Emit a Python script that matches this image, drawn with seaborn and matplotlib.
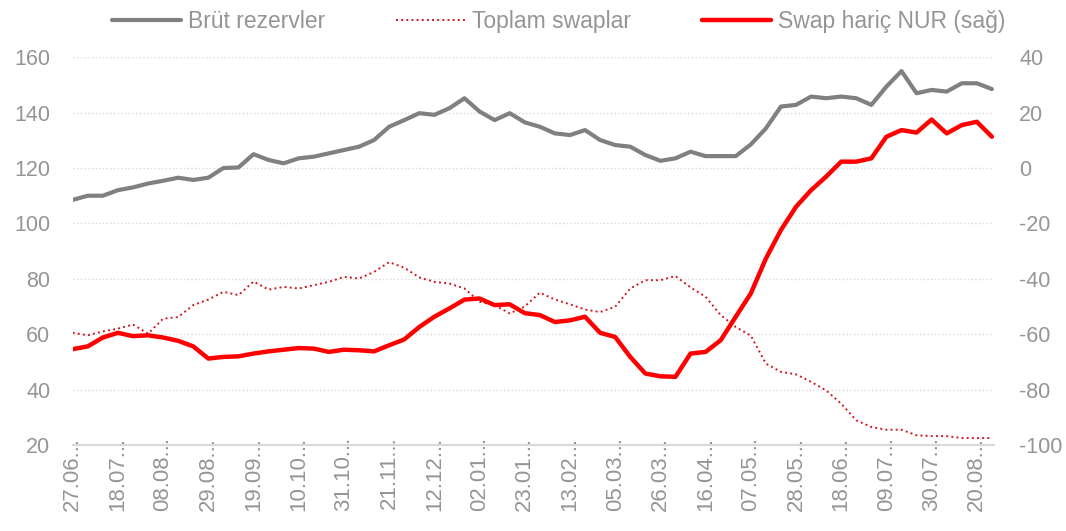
import pandas as pd
import numpy as np
import matplotlib.pyplot as plt
import seaborn as sns

# weekly readings, start 27.06.2023
start_date = "2023-06-27"

brut_rezerv = [108.5, 110, 110, 112, 113, 114.4, 115.4, 116.5, 115.7, 116.5, 120, 120.2, 125, 122.9, 121.7, 123.5,
               124.1, 125.3, 126.5, 127.7, 130.1, 134.9, 137.3, 139.8, 139.2, 141.6, 145.2, 140.4, 137.3, 139.8,
               136.5, 134.9, 132.5, 131.9, 133.7, 130.1, 128.3, 127.7, 124.7, 122.6, 123.5, 125.9, 124.3, 124.3,
               124.3, 128.5, 134.3, 142.2, 142.8, 145.8, 145.2, 145.8, 145.2, 142.8, 149.4, 155, 147, 148.2, 147.6,
               150.6, 150.6, 148.5]

toplam_swap = [60.5, 59.6, 61, 62, 63.5, 60.2, 65.6, 66.2, 70.5, 72.5, 75.3, 74.1, 79, 76.1, 77.1, 76.5,
               77.7, 78.9, 80.7, 80.1, 82.5, 86, 84, 80.5, 78.9, 78.3, 76.5, 71.7, 70.5, 67.5,
               70, 75, 72.5, 70.8, 68.9, 68, 69.9, 76.5, 79.5, 79.5, 81, 76.9, 73.5, 66.9,
               62.6, 59.5, 49.4, 46.4, 45.5, 42.8, 39.7, 34.9, 28.9, 26.5, 25.5, 25.5, 23.5, 23.2, 23.2,
               22.5, 22.5, 22.5]

swap_haric_nur = [-65.4, -64.4, -61.2, -59.5, -60.7, -60.4, -61.2, -62.4, -64.4, -68.8, -68.2, -68, -67, -66.2,
                  -65.6, -65, -65.2, -66.4, -65.6, -65.8, -66.2, -64, -61.9, -57.4, -53.7, -50.7, -47.5, -47.1,
                  -49.5, -49.2, -52.4, -53.1, -55.6, -55, -53.7, -59.5, -61, -68.2, -74.2, -75.2, -75.4, -67,
                  -66.4, -62.2, -53.7, -45.3, -32.7, -22.4, -14, -8, -3.1, 2.3, 2.3, 3.5, 11.3, 13.7, 12.8,
                  17.5, 12.5, 15.5, 16.7, 11.3]

xtick_labels = ['27.06...', '18.07...', '08.08...', '29.08...', '19.09...', '10.10...', '31.10...', '21.11...',
                '12.12...', '02.01...', '23.01...', '13.02...', '05.03...', '26.03...', '16.04...', '07.05...',
                '28.05...', '18.06...', '09.07...', '30.07...', '20.08...']

df = pd.DataFrame({'Date': pd.date_range(start_date, periods=len(brut_rezerv), freq='7D'),
                   'Brut': brut_rezerv, 'Swap': toplam_swap, 'NUR': swap_haric_nur})

sns.set_theme(style="white")
plt.rcParams['font.family'] = ['Liberation Sans', 'DejaVu Sans']
plt.rcParams['axes.unicode_minus'] = False

txt_col = '#959595'
grid_col = '#D9D9D9'
fs = 15.5

fig = plt.figure(figsize=(10.66, 5.31), dpi=100)
ax = fig.add_axes([0.0682, 0.162, 0.8643, 0.7302])
ax2 = ax.twinx()

sns.lineplot(data=df, x='Date', y='Brut', ax=ax, color='#808080', linewidth=3.0, label='Brüt rezervler', legend=False)
sns.lineplot(data=df, x='Date', y='Swap', ax=ax, color='#D0181E', linewidth=1.4, linestyle=':',
             label='Toplam swaplar', legend=False)
sns.lineplot(data=df, x='Date', y='NUR', ax=ax2, color='#FF0000', linewidth=3.2,
             label='Swap hariç NUR (sağ)', legend=False)

ax.set_ylim(20, 160)
ax.set_yticks(np.arange(20, 161, 20))
ax2.set_ylim(-100, 40)
ax2.set_yticks(np.arange(-100, 41, 20))

d0 = pd.Timestamp(start_date)
ax.set_xlim(d0, d0 + pd.Timedelta(days=428))
ax.set_xticks(pd.date_range(start_date, periods=len(xtick_labels), freq='21D'))
ax.set_xticklabels(xtick_labels, rotation=90, va='top', ha='center')

ax.yaxis.grid(True, linestyle=':', color=grid_col, linewidth=1.0)
ax.set_axisbelow(True)
ax.set_xlabel('')
ax.set_ylabel('')
ax2.set_ylabel('')

for a in (ax, ax2):
    for s in ['top', 'left', 'right', 'bottom']:
        a.spines[s].set_visible(False)
ax.spines['bottom'].set_visible(True)
ax.spines['bottom'].set_color(grid_col)
ax.spines['bottom'].set_linewidth(1.6)

ax.tick_params(axis='x', colors=txt_col, labelsize=16, length=5, width=1.2, color=grid_col, pad=-11,
               direction='out')
ax.tick_params(axis='y', colors=txt_col, labelsize=fs, length=0, pad=16)
ax2.tick_params(axis='y', colors=txt_col, labelsize=fs, length=0, pad=18)

h1, l1 = ax.get_legend_handles_labels()
h2, l2 = ax2.get_legend_handles_labels()
leg = fig.legend(h1 + h2, l1 + l2, loc='center', bbox_to_anchor=(0.524, 0.96), ncol=3, frameon=False,
                 fontsize=16.5, handlelength=3.0, columnspacing=3.1, handletextpad=0.3)
for t in leg.get_texts():
    t.set_color(txt_col)

plt.savefig('out.png', dpi=100)
